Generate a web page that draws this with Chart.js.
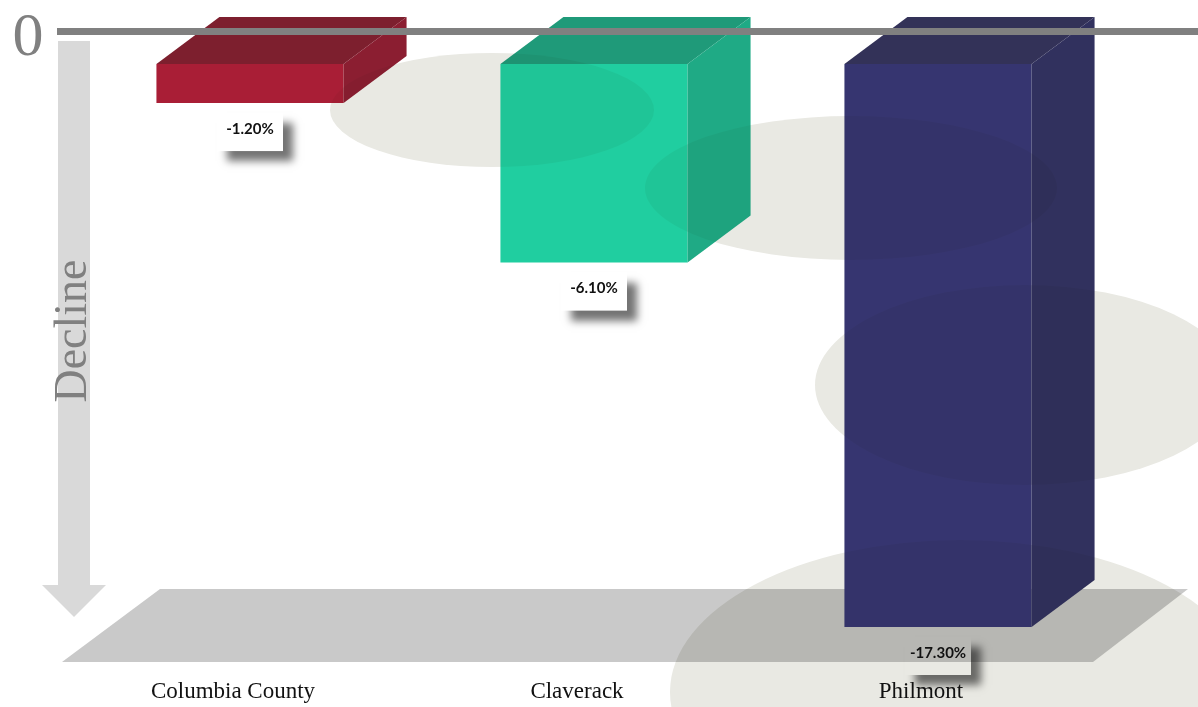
<!DOCTYPE html>
<html>
<head>
<meta charset="utf-8">
<script src="https://cdn.jsdelivr.net/npm/chart.js@4.4.1/dist/chart.umd.min.js"></script>
<style>
  body { margin: 0; background: #fff; }
  #wrap { width: 1198px; height: 707px; position: relative; }
</style>
</head>
<body>
<div id="wrap"><canvas id="chart" width="1198" height="707"></canvas></div>
<script>
// data
const places = ["Columbia County", "Claverack", "Philmont"];
const change = [-1.2, -6.1, -17.3];
const valueLabels = ["-1.20%", "-6.10%", "-17.30%"];

// colours for each bar: front, top, side
const frontColors = ["#a91e36", "#20cea0", "#363570"];
const topColors = ["#7d1f2e", "#1f9a79", "#333258"];
const sideColors = ["#8b1e31", "#1faa85", "#31315e"];

const DX = 63, DY = 47; // depth of the fake 3d boxes

// decorative blobs in the back [cx, cy, rx, ry]
const blobs = [[492, 110, 162, 57], [851, 188, 206, 72], [1025, 385, 210, 100], [960, 692, 290, 152]];

function drawBlobs(ctx) {
    blobs.forEach(e => {
        ctx.beginPath();
        ctx.ellipse(e[0], e[1], e[2], e[3], 0, 0, Math.PI * 2);
        ctx.fill();
    });
}

function boxPath(ctx, bar) {
    const left = bar.x - bar.width / 2;
    const right = bar.x + bar.width / 2;
    const top = Math.min(bar.y, bar.base);
    const bottom = Math.max(bar.y, bar.base);
    ctx.moveTo(left, top);
    ctx.lineTo(left + DX, top - DY);
    ctx.lineTo(right + DX, top - DY);
    ctx.lineTo(right + DX, bottom - DY);
    ctx.lineTo(right, bottom);
    ctx.lineTo(left, bottom);
    ctx.closePath();
}

const backdrop = {
    id: 'backdrop',
    beforeDatasetsDraw(chart) {
        const ctx = chart.ctx;
        ctx.save();
        ctx.fillStyle = '#e9e9e3';
        drawBlobs(ctx);

        // floor
        ctx.globalCompositeOperation = 'multiply';
        ctx.fillStyle = '#c9c9c9';
        ctx.beginPath();
        ctx.moveTo(160, 589);
        ctx.lineTo(1188, 589);
        ctx.lineTo(1093, 662);
        ctx.lineTo(62, 662);
        ctx.closePath();
        ctx.fill();
        ctx.globalCompositeOperation = 'source-over';

        // down arrow
        ctx.fillStyle = '#d9d9d9';
        ctx.fillRect(58, 41, 32, 545);
        ctx.beginPath();
        ctx.moveTo(42, 585);
        ctx.lineTo(106, 585);
        ctx.lineTo(74, 617);
        ctx.closePath();
        ctx.fill();

        ctx.fillStyle = '#808080';
        ctx.font = '46px "Liberation Serif"';
        ctx.textAlign = 'center';
        ctx.textBaseline = 'alphabetic';
        ctx.translate(86, 331);
        ctx.rotate(-Math.PI / 2);
        ctx.fillText('Decline', 0, 0);
        ctx.restore();
    },
    afterDatasetsDraw(chart) {
        const ctx = chart.ctx;
        const meta = chart.getDatasetMeta(0);
        ctx.save();
        // top and side faces of each bar
        meta.data.forEach((bar, i) => {
            const left = bar.x - bar.width / 2;
            const right = bar.x + bar.width / 2;
            const top = Math.min(bar.y, bar.base);
            const bottom = Math.max(bar.y, bar.base);
            ctx.fillStyle = topColors[i];
            ctx.beginPath();
            ctx.moveTo(left, top);
            ctx.lineTo(right, top);
            ctx.lineTo(right + DX, top - DY);
            ctx.lineTo(left + DX, top - DY);
            ctx.closePath();
            ctx.fill();
            ctx.fillStyle = sideColors[i];
            ctx.beginPath();
            ctx.moveTo(right, top);
            ctx.lineTo(right + DX, top - DY);
            ctx.lineTo(right + DX, bottom - DY);
            ctx.lineTo(right, bottom);
            ctx.closePath();
            ctx.fill();
        });

        // blobs show faintly through the boxes
        ctx.save();
        ctx.beginPath();
        meta.data.forEach(bar => boxPath(ctx, bar));
        ctx.clip();
        ctx.globalCompositeOperation = 'multiply';
        ctx.globalAlpha = 0.5;
        ctx.fillStyle = '#e9e9e3';
        drawBlobs(ctx);
        ctx.restore();

        // zero line
        ctx.fillStyle = '#808080';
        ctx.fillRect(57, 28, 1141, 7);
        ctx.font = '62px "Liberation Serif"';
        ctx.textAlign = 'center';
        ctx.textBaseline = 'alphabetic';
        ctx.fillText('0', 28, 55);

        // value labels: only the shadow of the box is visible
        meta.data.forEach((bar, i) => {
            const bottom = Math.max(bar.y, bar.base);
            const bx = bar.x - 33, by = bottom + 10, bw = 66, bh = 38;
            ctx.save();
            ctx.beginPath();
            ctx.rect(0, 0, chart.width, chart.height);
            ctx.rect(bx, by, bw, bh);
            ctx.clip('evenodd');
            ctx.shadowColor = 'rgba(0,0,0,0.55)';
            ctx.shadowBlur = 8;
            ctx.shadowOffsetX = 10;
            ctx.shadowOffsetY = 10;
            ctx.fillStyle = '#fff';
            ctx.fillRect(bx, by, bw, bh);
            ctx.restore();
            ctx.fillStyle = '#111';
            ctx.font = 'bold 15px Lato';
            ctx.textAlign = 'center';
            ctx.textBaseline = 'middle';
            ctx.fillText(valueLabels[i], bar.x, bottom + 26);
        });

        // category names
        const xs = chart.scales.x;
        ctx.fillStyle = '#111';
        ctx.font = '23px "Liberation Serif"';
        ctx.textAlign = 'center';
        ctx.textBaseline = 'middle';
        places.forEach((p, i) => {
            ctx.fillText(p, xs.getPixelForValue(i) - 17, 692);
        });
        ctx.restore();
    }
};

new Chart(document.getElementById('chart'), {
    type: 'bar',
    data: {
        labels: places,
        datasets: [{
            data: change,
            backgroundColor: frontColors,
            borderWidth: 0,
            categoryPercentage: 1,
            barPercentage: 0.544
        }]
    },
    options: {
        responsive: false,
        animation: false,
        layout: { padding: { left: 78, right: 88, top: 64, bottom: 80 } },
        scales: {
            x: { display: false },
            y: { display: false, min: -17.3, max: 0 }
        },
        plugins: {
            legend: { display: false },
            tooltip: { enabled: false }
        }
    },
    plugins: [backdrop]
});
</script>
</body>
</html>
